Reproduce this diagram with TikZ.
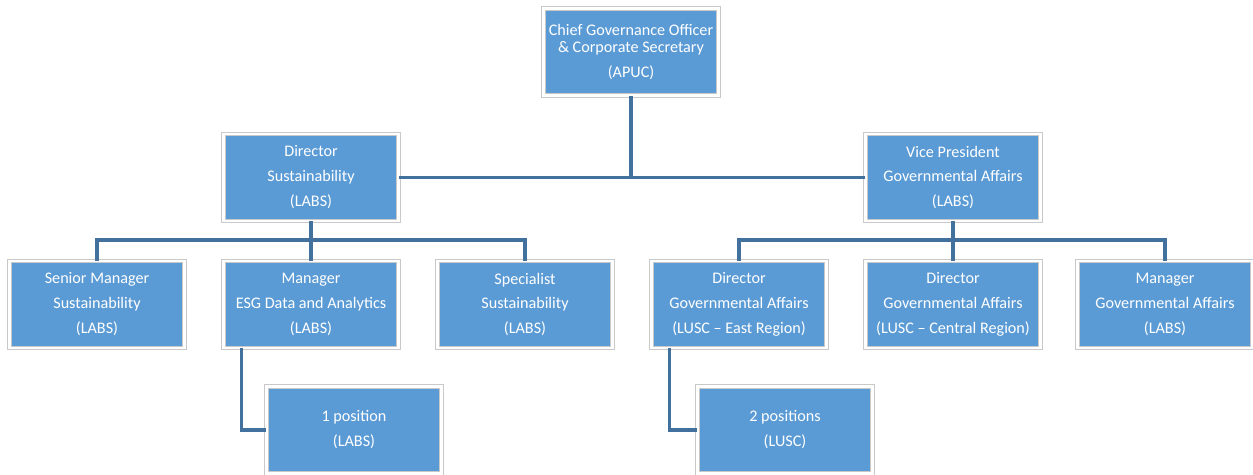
\documentclass[tikz,border=0pt]{standalone}
\usepackage{fontspec}
\setmainfont{Carlito}
\usetikzlibrary{positioning,calc}
\definecolor{boxblue}{HTML}{5B9BD5}
\definecolor{linkblue}{HTML}{41719C}
\definecolor{rimgray}{HTML}{C9C9C9}

\begin{document}
\begin{tikzpicture}[x=0.02cm,y=-0.02cm,
    role/.style={draw=rimgray, double=white, double distance=1.6pt, fill=boxblue,
        text=white, align=center, minimum width=3.5cm, minimum height=1.74cm,
        inner sep=2pt, font=\fontsize{9.2}{14.2}\selectfont},
    link/.style={draw=linkblue, line width=1.8pt}]
    \useasboundingbox (0,0) rectangle (1253,475);

    % Top of the chart
    \node[role] (cgo) at (631,52) {Chief Governance Officer\\[-4pt] \& Corporate Secretary\\ (APUC)};

    % Second level
    \node[role] (dirS) at (311,177.5) {Director\\ Sustainability\\ (LABS)};
    \node[role] (vp) at (953,177.5) {Vice President\\ Governmental Affairs\\ (LABS)};

    % Third level
    \node[role] (srm) at (97,304.5) {Senior Manager\\ Sustainability\\ (LABS)};
    \node[role] (mgr) at (311,304.5) {Manager\\ ESG Data and Analytics\\ (LABS)};
    \node[role] (spec) at (525,304.5) {Specialist\\ Sustainability\\ (LABS)};
    \node[role] (dirE) at (739,304.5) {Director\\ Governmental Affairs\\ (LUSC -- East Region)};
    \node[role] (dirC) at (953,304.5) {Director\\ Governmental Affairs\\ (LUSC -- Central Region)};
    \node[role] (mgrG) at (1165,304.5) {Manager\\ Governmental Affairs\\ (LABS)};

    % Positions
    \node[role] (pos1) at (354,430) {1 position\\ (LABS)};
    \node[role] (pos2) at (785,430) {2 positions\\ (LUSC)};

    % Connectors
    \coordinate (busL) at (311,240);
    \coordinate (busR) at (953,240);
    \draw[link] (cgo.south) -- (cgo.south |- dirS.east);
    \draw[link] (dirS.east) -- (vp.west);
    \draw[link] (dirS.south) -- (busL);
    \draw[link] (srm.north) |- (busL) -| (spec.north);
    \draw[link] (mgr.north) -- (busL);
    \draw[link] (vp.south) -- (busR);
    \draw[link] (dirE.north) |- (busR) -| (mgrG.north);
    \draw[link] (dirC.north) -- (busR);
    \draw[link] ([xshift=0.36cm]mgr.south west) |- (pos1.west);
    \draw[link] ([xshift=0.36cm]dirE.south west) |- (pos2.west);
\end{tikzpicture}
\end{document}
